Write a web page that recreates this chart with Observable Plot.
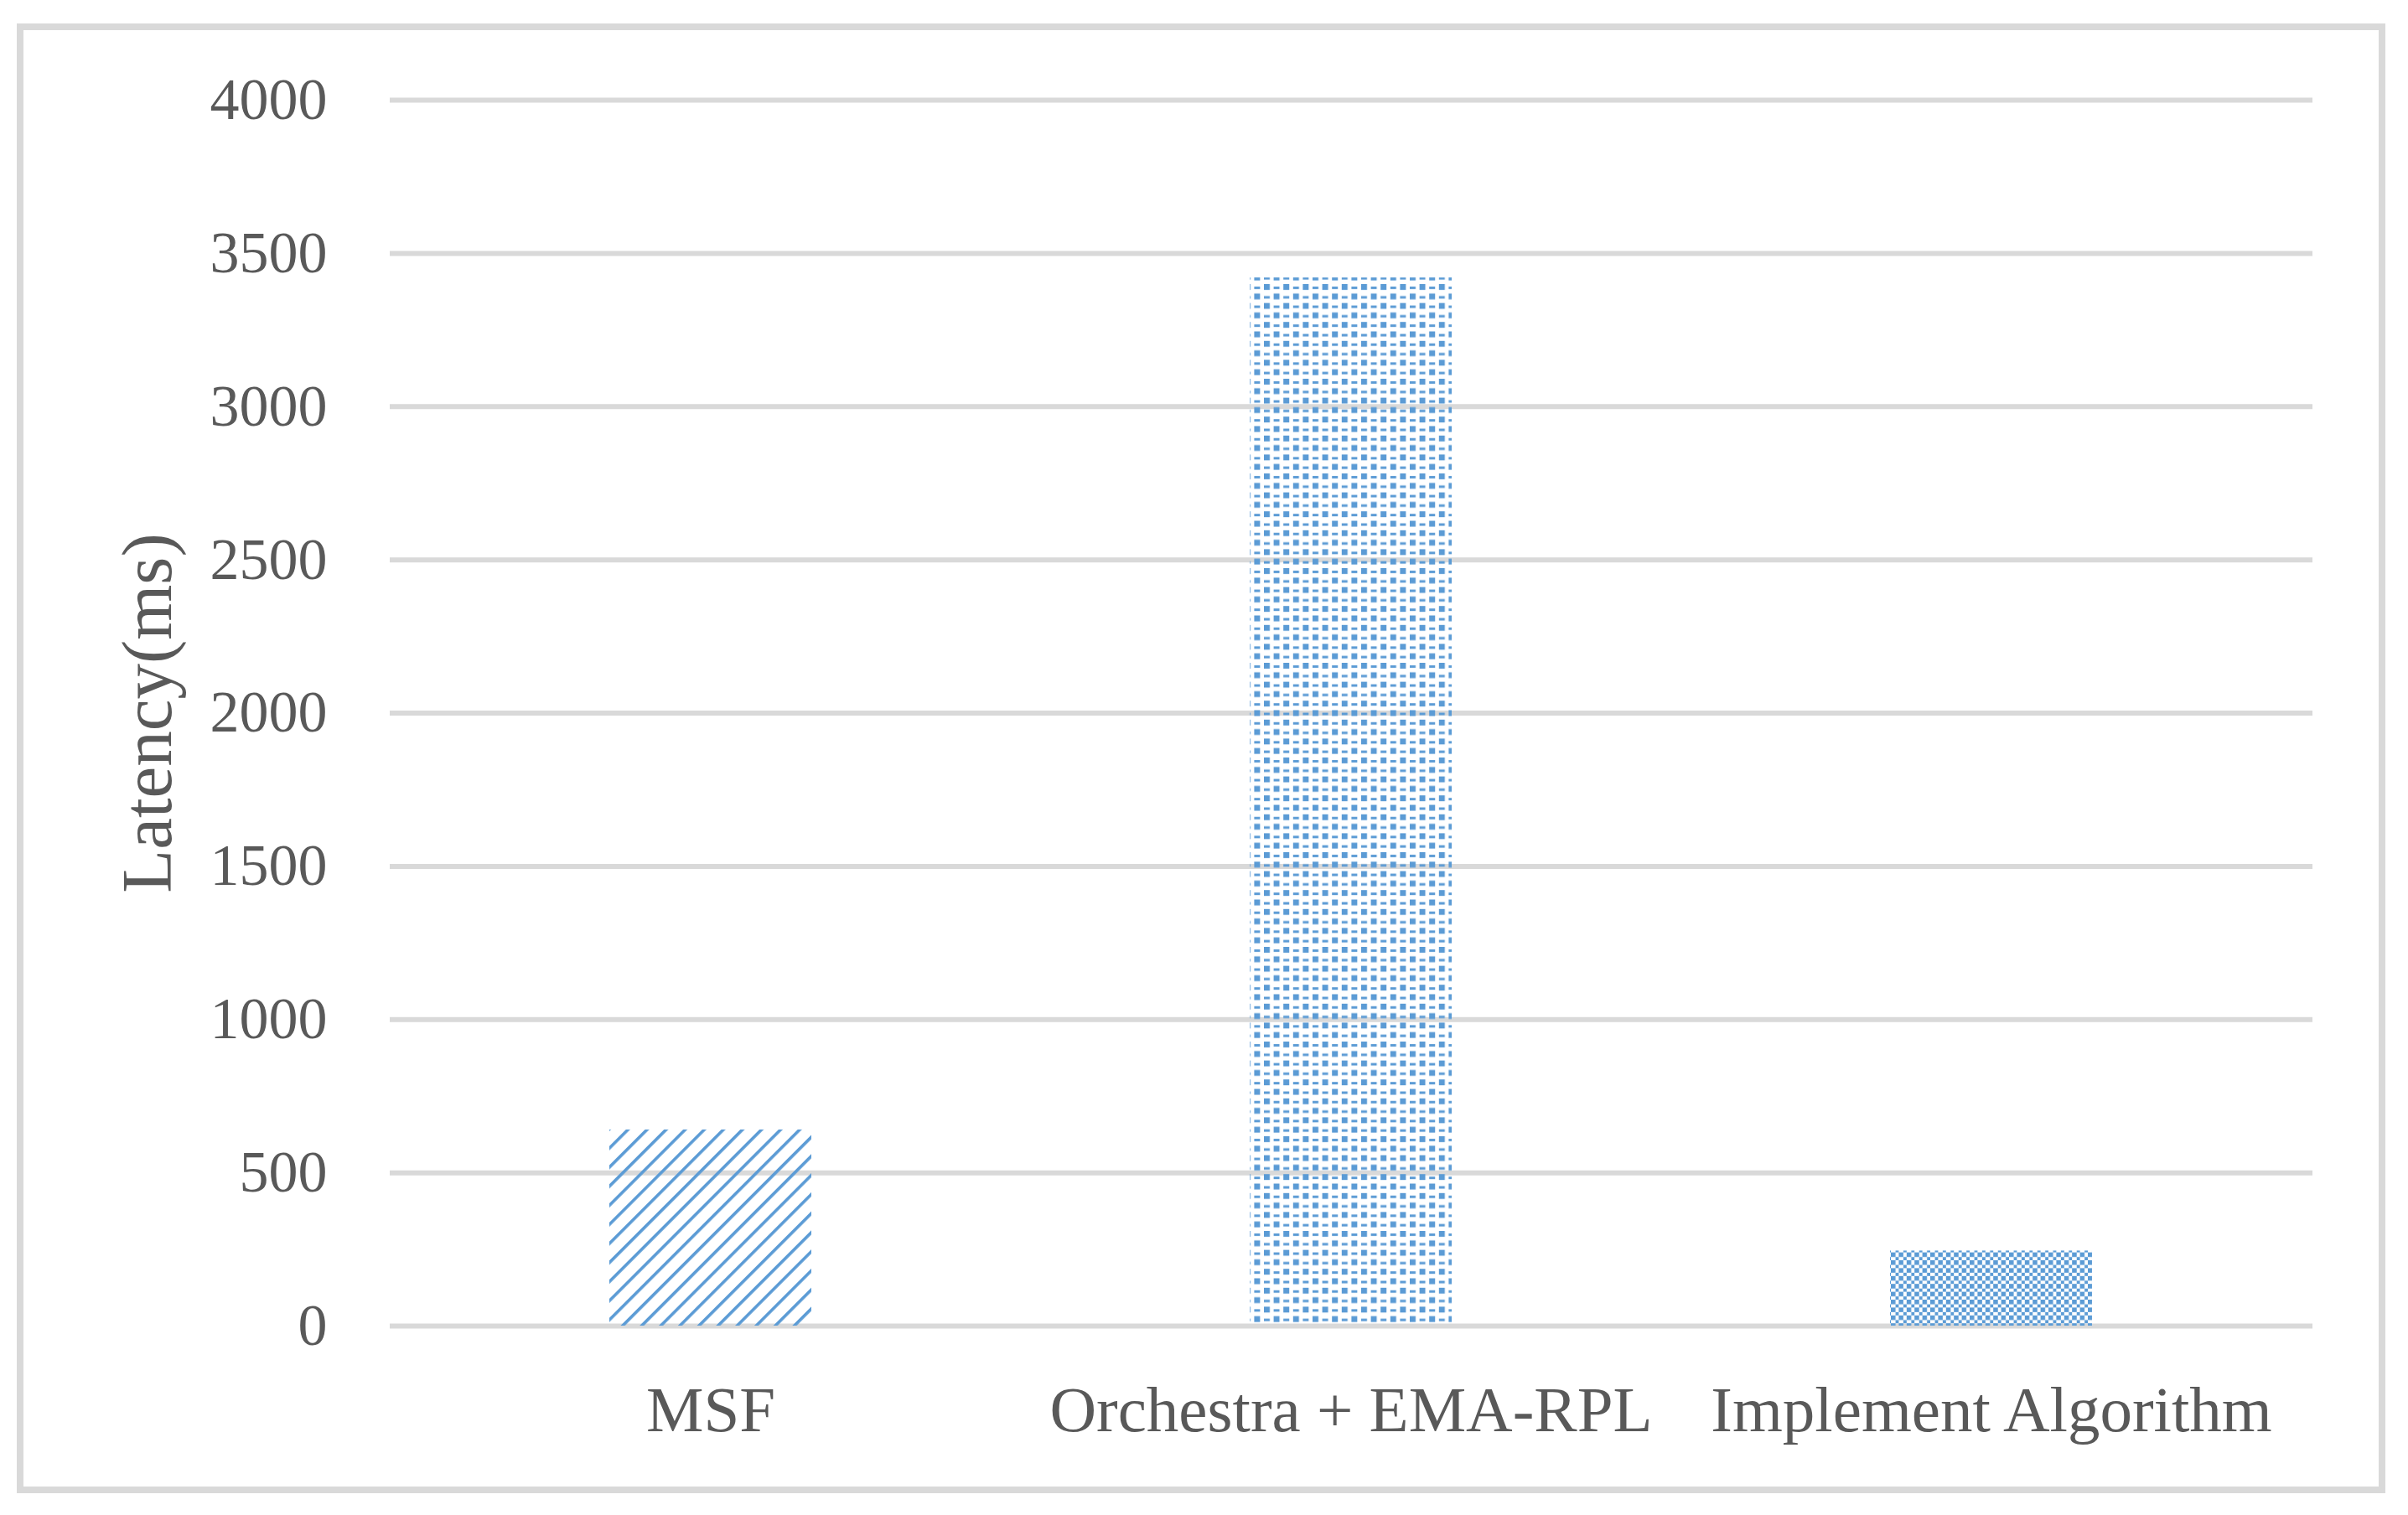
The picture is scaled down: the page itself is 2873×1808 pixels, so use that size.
<!DOCTYPE html>
<html>
<head>
<meta charset="utf-8">
<script src="https://cdn.jsdelivr.net/npm/d3@7"></script>
<script src="https://cdn.jsdelivr.net/npm/@observablehq/plot@0.6"></script>
<style>
  html, body { margin: 0; padding: 0; background: #ffffff; overflow: hidden; }
  #chart svg { display: block; }
</style>
</head>
<body>
<div id="chart"></div>
<script>
// ---- Data ----
const categories = ["MSF", "Orchestra + EMA-RPL", "Implement Algorithm"];
const latencyMs = [640, 3420, 245];
const yTicks = [0, 500, 1000, 1500, 2000, 2500, 3000, 3500, 4000];
const yLabel = "Latency(ms)";

const data = categories.map((name, i) => ({name, value: latencyMs[i]}));

const blue = "#5B9BD5";
const patternIds = ["patHatch", "patVertDots", "patChecker"];

const W = 2873, H = 1808;

const svg = Plot.plot({
  width: W,
  height: H,
  marginLeft: 465,
  marginRight: 114,
  marginTop: 119,
  marginBottom: 226,
  style: {fontFamily: "'Liberation Serif', 'Times New Roman', serif", background: "#ffffff"},
  x: {domain: categories, paddingInner: 0.684, paddingOuter: 0.342},
  y: {domain: [0, 4000]},
  marks: [
    Plot.ruleY(yTicks, {stroke: "#d9d9d9", strokeWidth: 6}),
    ...categories.map((c, i) =>
      Plot.barY(data.filter(d => d.name === c), {
        x: "name", y: "value", fill: `url(#${patternIds[i]})`, inset: 0
      })
    ),
    Plot.axisY({ticks: yTicks, tickFormat: d => String(d), tickSize: 0, tickPadding: 75, fontSize: 70, color: "#595959", label: null}),
    Plot.axisX({tickSize: 0, tickPadding: 71, fontSize: 77, color: "#595959", label: null}),
    Plot.text([yLabel], {
      text: d => d, frameAnchor: "left", rotate: -90, dx: -262,
      lineAnchor: "bottom", textAnchor: "middle", fontSize: 85, fill: "#595959"
    })
  ]
});

// Pattern fills and outer frame
const s = d3.select(svg);
const defs = s.insert("defs", ":first-child");

// MSF: wide upward diagonal hatching
const p1 = defs.append("pattern").attr("id", patternIds[0])
  .attr("patternUnits", "userSpaceOnUse").attr("width", 16.1).attr("height", 16.1)
  .attr("patternTransform", "rotate(45)");
p1.append("rect").attr("x", 0).attr("y", 0).attr("width", 3.6).attr("height", 16.1).attr("fill", blue);

// Orchestra + EMA-RPL: vertical dotted columns
const p2 = defs.append("pattern").attr("id", patternIds[1])
  .attr("patternUnits", "userSpaceOnUse").attr("width", 23.2).attr("height", 22.6);
p2.append("rect").attr("x", 0).attr("y", 0).attr("width", 7).attr("height", 7).attr("fill", blue);
p2.append("rect").attr("x", 11.6).attr("y", 11.3).attr("width", 7).attr("height", 7).attr("fill", blue);
p2.append("rect").attr("x", 11.6).attr("y", 3).attr("width", 7).attr("height", 3).attr("fill", blue);
p2.append("rect").attr("x", 0).attr("y", 14.3).attr("width", 7).attr("height", 3).attr("fill", blue);

// Implement Algorithm: small checkerboard
const p3 = defs.append("pattern").attr("id", patternIds[2])
  .attr("patternUnits", "userSpaceOnUse").attr("width", 9.4).attr("height", 9.4);
p3.append("rect").attr("x", 0).attr("y", 0).attr("width", 5.5).attr("height", 5.5).attr("fill", blue);
p3.append("rect").attr("x", 5.5).attr("y", 5.5).attr("width", 3.9).attr("height", 3.9).attr("fill", blue);

s.append("rect")
  .attr("x", 24).attr("y", 32).attr("width", 2818).attr("height", 1746)
  .attr("fill", "none").attr("stroke", "#d9d9d9").attr("stroke-width", 8);

document.getElementById("chart").appendChild(svg);
</script>
</body>
</html>
